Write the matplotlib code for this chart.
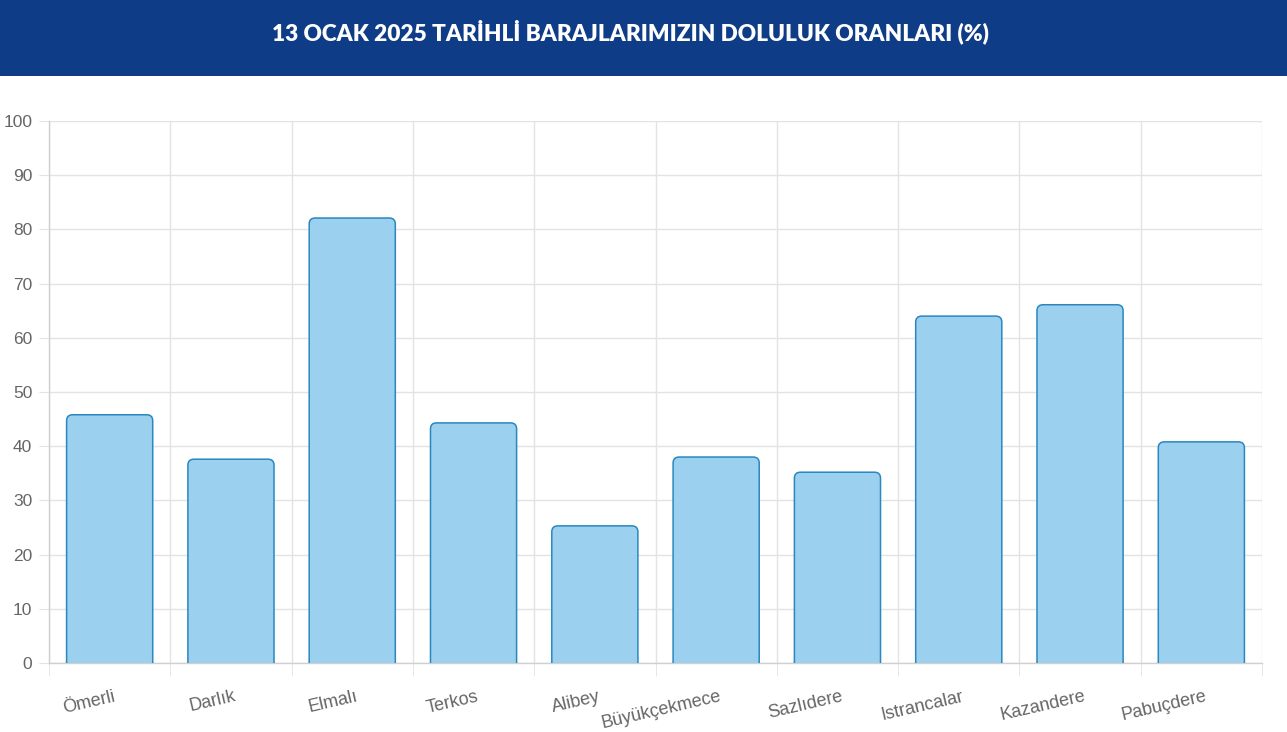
import matplotlib
matplotlib.use("Agg")
import matplotlib.pyplot as plt
from matplotlib.patches import FancyBboxPatch, Rectangle
from matplotlib.transforms import ScaledTranslation
import numpy as np

# Baraj doluluk oranlari (%) - 13 Ocak 2025
dams = ["Ömerli", "Darlık", "Elmalı", "Terkos", "Alibey", "Büyükçekmece",
        "Sazlıdere", "Istrancalar", "Kazandere", "Pabuçdere"]
fill_pct = [45.8, 37.6, 82.1, 44.3, 25.3, 38.0, 35.2, 64.0, 66.1, 40.8]
y_ticks = [0, 10, 20, 30, 40, 50, 60, 70, 80, 90, 100]
title = "13 OCAK 2025 TARİHLİ BARAJLARIMIZIN DOLULUK ORANLARI (%)"

W, H, DPI = 1287, 732, 100
fig = plt.figure(figsize=(W / DPI, H / DPI), dpi=DPI)
fig.patch.set_facecolor("white")

# header band
fig.add_artist(Rectangle((0, 1 - 76 / H), 1, 76 / H, transform=fig.transFigure,
                         facecolor="#0f3c86", edgecolor="none", zorder=0))
fig.text(630 / W, 1 - 32 / H, title, color="white", fontsize=16.3,
         fontweight="heavy", family="Lato", ha="center", va="center")

ax = fig.add_axes([49 / W, 1 - 663 / H, (1262 - 49) / W, (663 - 121) / H])
x = np.arange(len(dams))
bars = ax.bar(x, fill_pct, width=0.71, color="none", edgecolor="none")

ax.set_xlim(-0.5, len(dams) - 0.5)
ax.set_ylim(0, 100)

# rounded top corners: replace bar rectangles with rounded boxes
px_x = (1262 - 49) / len(dams)
px_y = (663 - 121) / 100
r = 6 / px_x
for b in bars:
    bx, bw, bh = b.get_x(), b.get_width(), b.get_height()
    p = FancyBboxPatch((bx, -3), bw, bh + 3,
                       boxstyle=f"round,pad=0,rounding_size={r}",
                       mutation_aspect=px_x / px_y,
                       facecolor="#9bd0ee", edgecolor="#2a88bf", linewidth=1.1,
                       zorder=3, clip_on=True)
    ax.add_patch(p)

# grid
ax.set_yticks(y_ticks)
ax.set_yticklabels([str(v) for v in y_ticks])
ax.set_xticks(x)
ax.set_xticklabels(dams)
ax.set_xticks(np.arange(-0.5, len(dams)), minor=True)
ax.grid(True, axis="y", color="#e3e3e3", linewidth=1, zorder=0)
ax.grid(True, axis="x", which="minor", color="#e3e3e3", linewidth=1, zorder=0)
ax.set_axisbelow(True)

for s in ["top", "right"]:
    ax.spines[s].set_visible(False)
for s in ["left", "bottom"]:
    ax.spines[s].set_color("#d0d0d0")
    ax.spines[s].set_linewidth(1)

ax.tick_params(axis="y", length=7, color="#e3e3e3", pad=5, labelsize=12.5,
               labelcolor="#666666")
ax.tick_params(axis="x", which="major", length=0, pad=18, labelsize=13,
               labelcolor="#666666")
ax.tick_params(axis="x", which="minor", length=9, color="#e3e3e3")
for lbl in ax.get_yticklabels() + ax.get_xticklabels():
    lbl.set_family("Liberation Sans")
shift = ScaledTranslation(3 / DPI, 0, fig.dpi_scale_trans)
for lbl in ax.get_xticklabels():
    lbl.set_rotation(13)
    lbl.set_ha("right")
    lbl.set_rotation_mode("anchor")
    lbl.set_transform(lbl.get_transform() + shift)

fig.savefig("out.png", dpi=DPI)
